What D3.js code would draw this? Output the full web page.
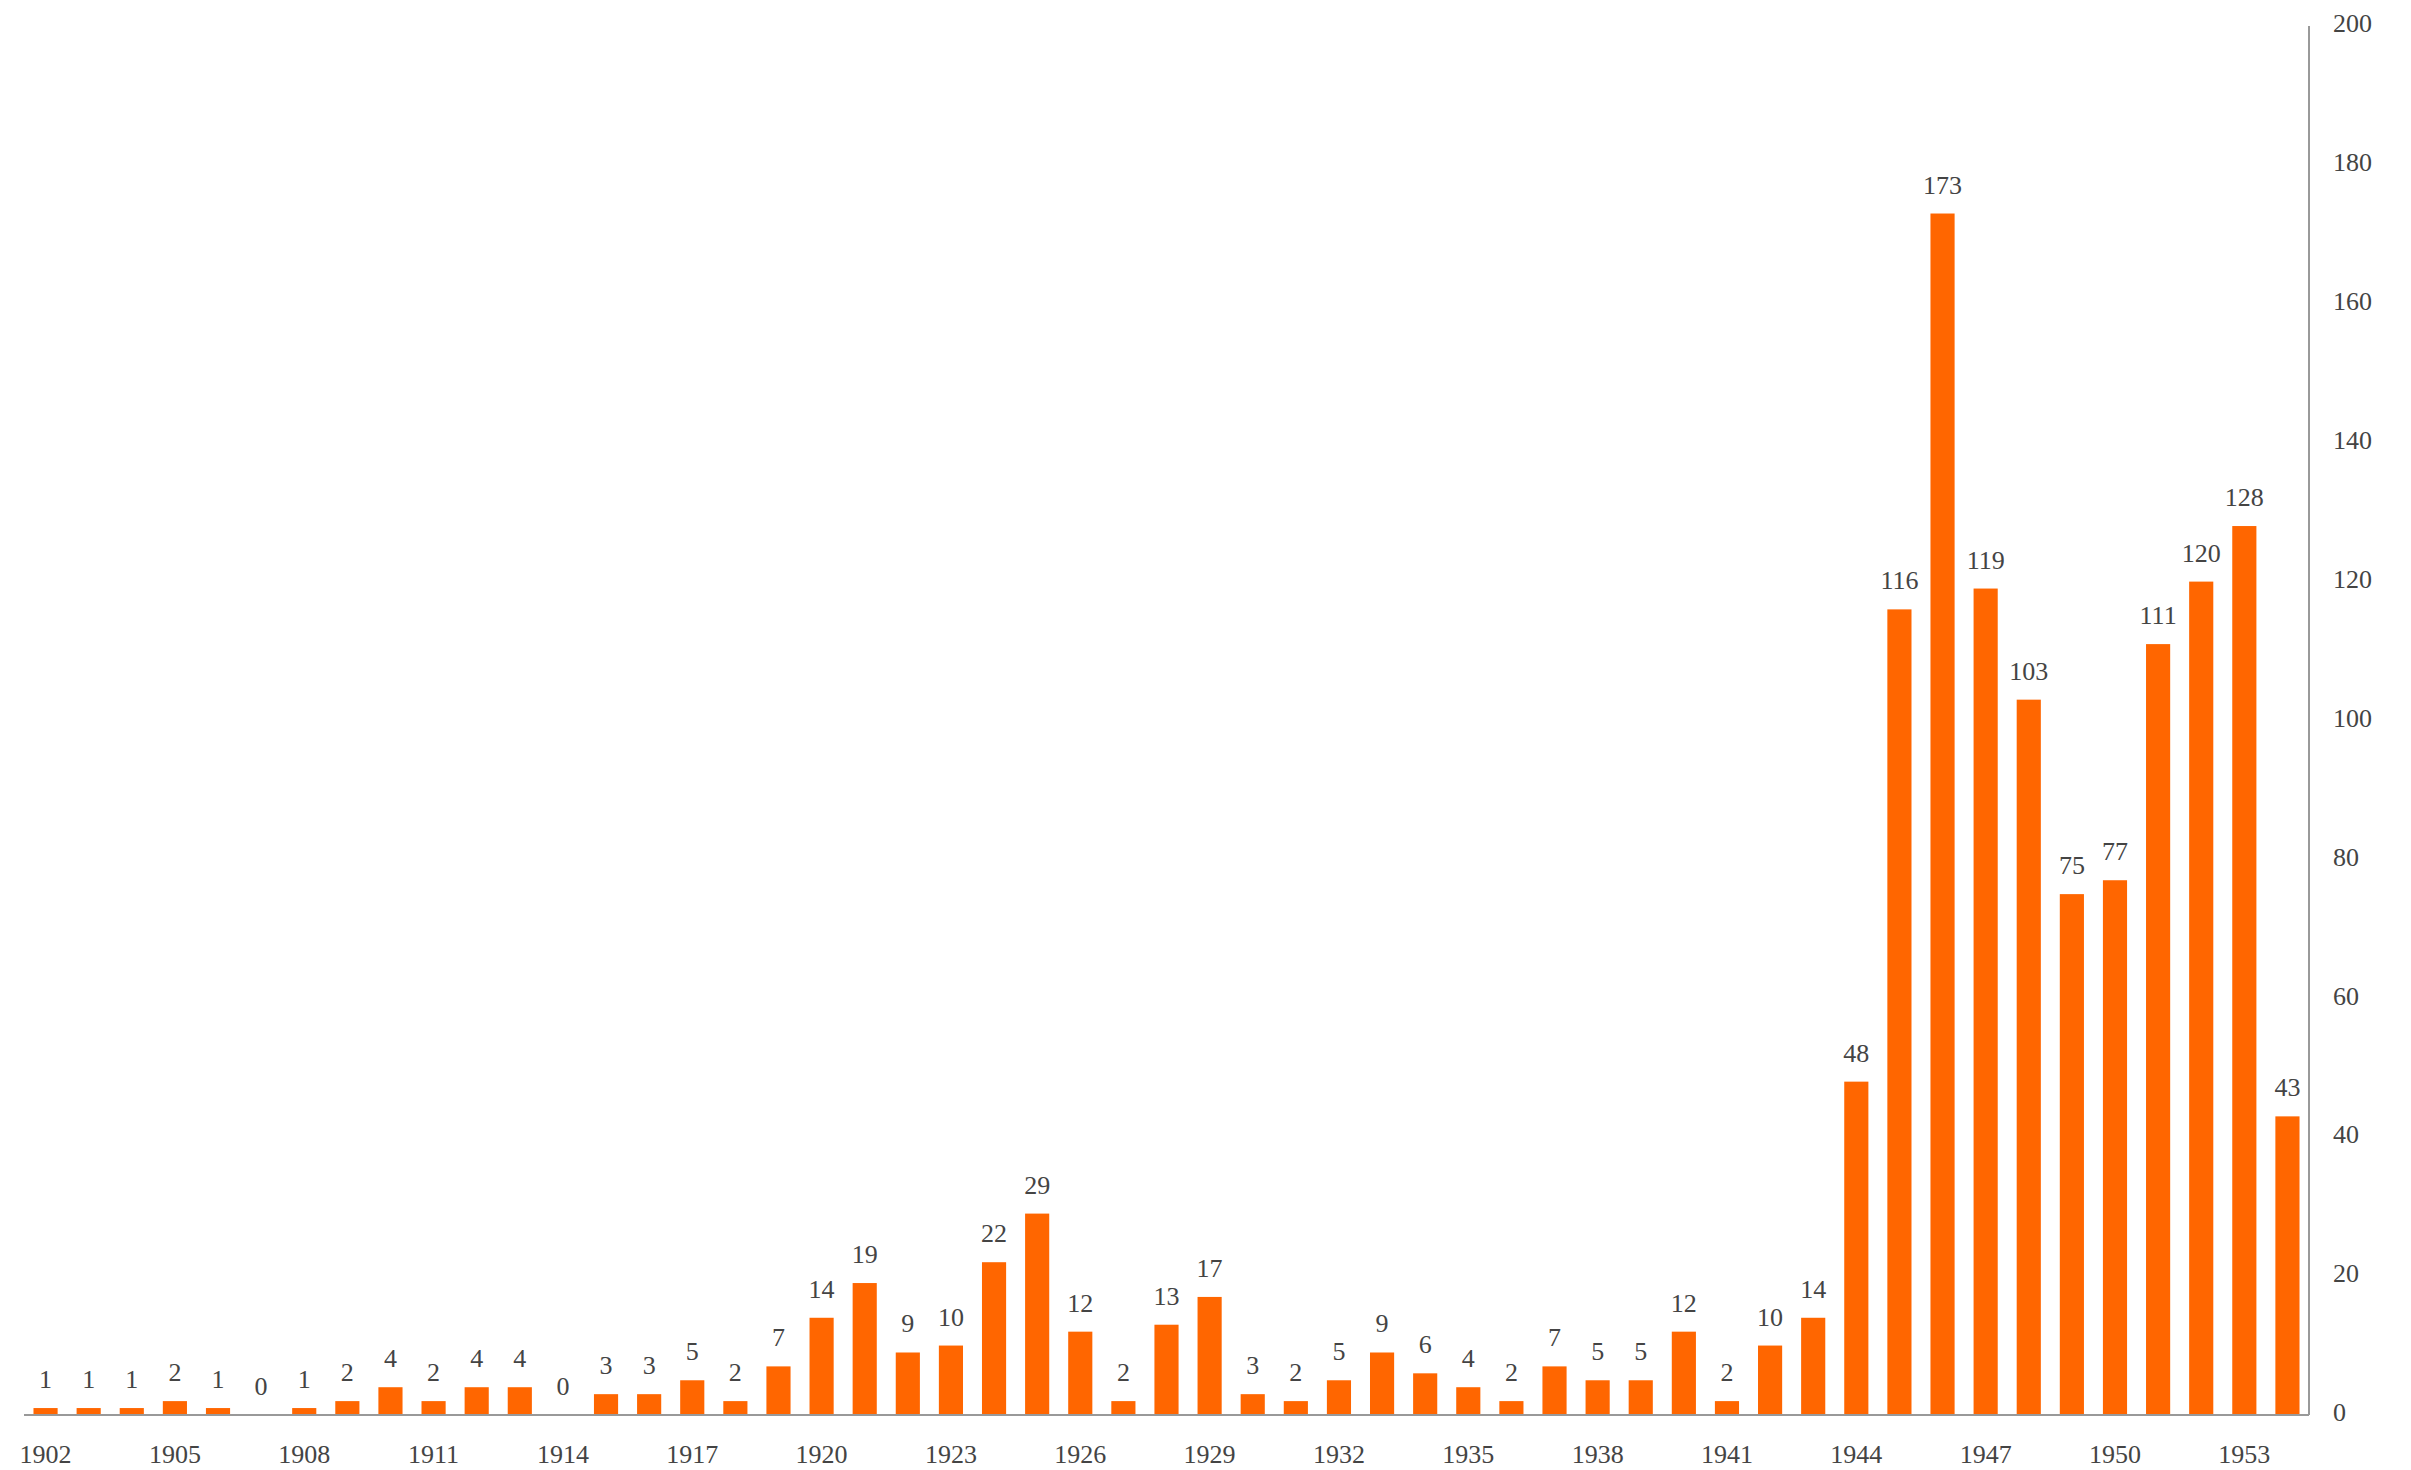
<!DOCTYPE html>
<html>
<head>
<meta charset="utf-8">
<script src="https://cdn.jsdelivr.net/npm/d3@7"></script>
<style>
  html, body { margin: 0; padding: 0; background: #fff; }
  svg { display: block; }
  text { font-family: "Liberation Serif", "DejaVu Serif", serif; fill: #444; }
</style>
</head>
<body>
<script>
const years = d3.range(1902, 1955);
const values = [1, 1, 1, 2, 1, 0, 1, 2, 4, 2, 4, 4, 0, 3, 3, 5, 2, 7, 14, 19, 9, 10, 22, 29, 12, 2, 13, 17, 3, 2, 5, 9, 6, 4, 2, 7, 5, 5, 12, 2, 10, 14, 48, 116, 173, 119, 103, 75, 77, 111, 120, 128, 43];
const xTickYears = [1902, 1905, 1908, 1911, 1914, 1917, 1920, 1923, 1926, 1929, 1932, 1935, 1938, 1941, 1944, 1947, 1950, 1953];
const yTicks = [0, 20, 40, 60, 80, 100, 120, 140, 160, 180, 200];

const W = 2411, H = 1470;
const mLeft = 24, mRight = 2309, mTop = 26, mBottom = 1415;

const svg = d3.select("body").append("svg").attr("width", W).attr("height", H);

const x = d3.scaleBand().domain(years).range([mLeft, mRight]).padding(0);
const y = d3.scaleLinear().domain([0, 200]).range([mBottom, mTop]);
const barW = x.bandwidth() * 0.56;

const data = years.map((yr, i) => ({ year: yr, value: values[i] }));

svg.append("g").selectAll("rect").data(data).join("rect")
  .attr("x", d => x(d.year) + x.bandwidth() / 2 - barW / 2)
  .attr("y", d => y(d.value))
  .attr("width", barW)
  .attr("height", d => y(0) - y(d.value))
  .attr("fill", "#ff6600");

svg.append("g").selectAll("text").data(data).join("text")
  .attr("x", d => x(d.year) + x.bandwidth() / 2)
  .attr("y", d => y(d.value) - 20)
  .attr("text-anchor", "middle")
  .attr("font-size", 26)
  .text(d => d.value);

// x axis
const xAxis = d3.axisBottom(x).tickValues(xTickYears).tickSize(0).tickPadding(0);
const gx = svg.append("g").attr("transform", `translate(0,${mBottom})`).call(xAxis);
gx.select(".domain").attr("stroke", "#999").attr("stroke-width", 2).attr("d", `M${mLeft},0H${mRight}`);
gx.selectAll("text").attr("font-size", 26).attr("dy", null).attr("y", 48).style("fill", "#444")
  .attr("font-family", "Liberation Serif, DejaVu Serif, serif");

// y axis
const yAxis = d3.axisRight(y).tickValues(yTicks).tickSize(0).tickPadding(24);
const gy = svg.append("g").attr("transform", `translate(${mRight},0)`).call(yAxis);
gy.select(".domain").attr("stroke", "#999").attr("stroke-width", 2).attr("d", `M0,${mTop}V${mBottom}`);
gy.selectAll("text").attr("font-size", 26).attr("dy", "0.22em").style("fill", "#444")
  .attr("font-family", "Liberation Serif, DejaVu Serif, serif");
</script>
</body>
</html>
